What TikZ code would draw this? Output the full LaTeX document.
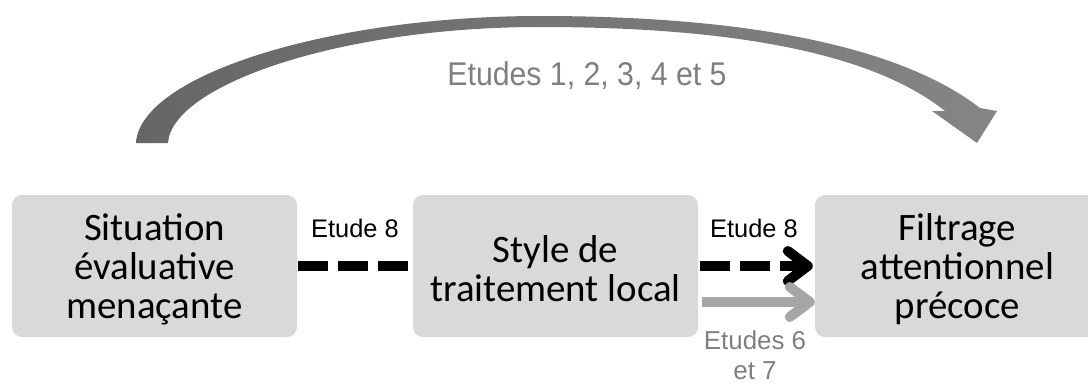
\documentclass[tikz,border=0pt]{standalone}
\usepackage{fontspec}
\setmainfont{Carlito}
\newfontfamily\labelfont{Liberation Sans}
\newfontfamily\titlefont[FakeStretch=0.92]{Liberation Sans}
\usetikzlibrary{arrows.meta}
\definecolor{boxgray}{HTML}{D9D9D9}
\definecolor{arcdark}{HTML}{666666}
\definecolor{arclight}{HTML}{858585}
\definecolor{lightarrow}{HTML}{A6A6A6}
\definecolor{labelgray}{HTML}{7F7F7F}
\tikzset{
  box/.style={fill=boxgray, rounded corners=10bp, inner sep=0pt,
    minimum width=285bp, minimum height=142bp},
  boxtext/.style={align=center, inner sep=0pt, yshift=-3bp,
    font=\fontsize{39}{39}\selectfont},
  lbl/.style={anchor=base, inner sep=0pt, align=center,
    font=\labelfont\fontsize{25.5}{32}\selectfont},
  barb/.style={-{Straight Barb[length=20bp, width=30bp, round]}},
  dashlink/.style={line width=10bp, dash pattern=on 30bp off 10bp},
}
\begin{document}
\begin{tikzpicture}[x=1bp, y=-1bp]
\useasboundingbox (0,0) rectangle (1088,385);

% curved arrow over the three boxes
\shade[left color=arcdark, right color=arclight]
  (136,143) .. controls (140,75) and (330,16) .. (540,16)
  .. controls (760,16) and (905,50) .. (980,108)
  -- (997,111) -- (977,143) -- (932,111) -- (945,111)
  .. controls (875,55) and (740,27) .. (540,27)
  .. controls (340,27) and (172,85) .. (168,143) -- cycle;
\node[lbl, text=labelgray, font=\titlefont\fontsize{33}{33}\selectfont] (top) at (587,85) {Etudes 1, 2, 3, 4 et 5};

% boxes and their texts
\node[box] (sit) at (154.5,266) {};
\node[box] (sty) at (555.5,266) {};
\node[box] (fil) at (957.5,266) {};
\node[boxtext] (sit-t) at (sit) {Situation\\évaluative\\menaçante};
\node[boxtext] (sty-t) at (sty) {Style de\\traitement local};
\node[boxtext] (fil-t) at (fil) {Filtrage\\attentionnel\\précoce};

% connectors
\draw[dashlink] ([xshift=1bp]sit.east) -- ([xshift=-4bp]sty.west);
\draw[dashlink, barb] ([xshift=2bp]sty.east) -- ([xshift=-2bp]fil.west);
\draw[line width=10bp, lightarrow, barb] ([xshift=4bp, yshift=-36bp]sty.east) -- ([xshift=0bp, yshift=-36bp]fil.west);

% connector labels
\node[lbl] (l1) at (355,237) {Etude 8};
\node[lbl] (l2) at (754,237) {Etude 8};
\node[lbl, text=labelgray, font=\labelfont\fontsize{26}{30}\selectfont] (l3) at (755,379) {Etudes 6\\et 7};
\end{tikzpicture}
\end{document}
